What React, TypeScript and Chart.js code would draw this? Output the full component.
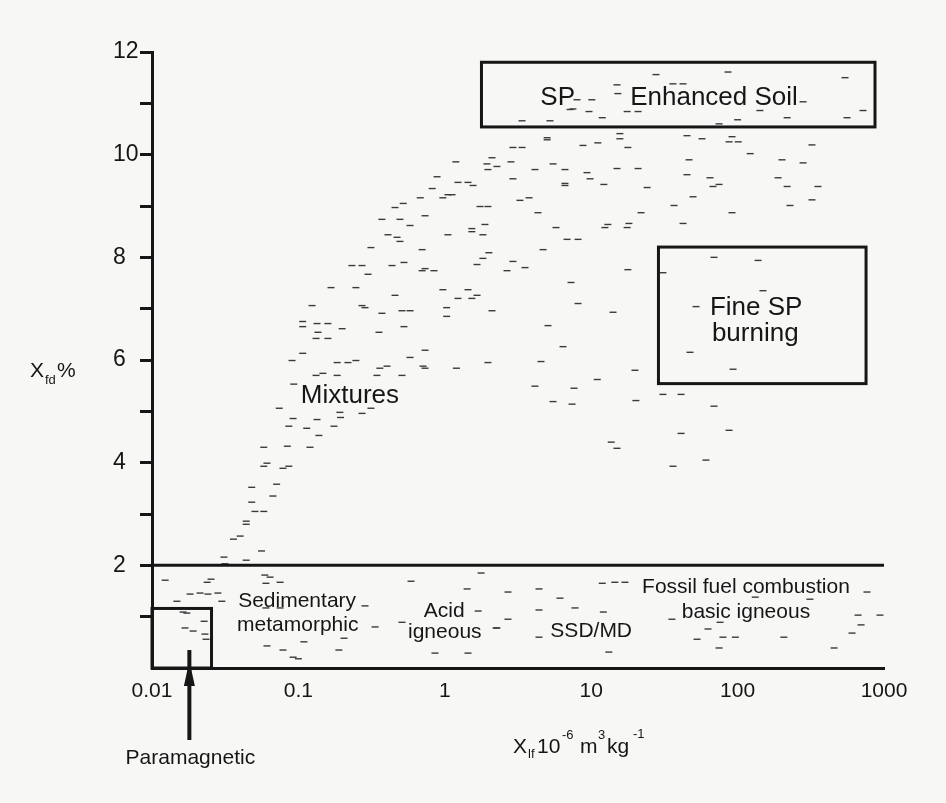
import React, { useEffect, useRef } from "react";
import { Chart, registerables } from "chart.js";

Chart.register(...registerables);

// ---- tick values / labels ----
const xTickValues = [0.01, 0.1, 1, 10, 100, 1000];
const xTickLabels = ["0.01", "0.1", "1", "10", "100", "1000"];
const yMajorTicks = [2, 4, 6, 8, 10, 12];

// ---- scatter samples: Xlf (10^-6 m3 kg-1) and Xfd% ----
// mixtures branch (rising from ~0.03 to ~2)
const mixturesXlf = [
  1.19, 1.94, 2.1, 1.97, 2.27, 0.885, 1.23, 1.44, 1.56, 0.82, 0.68, 0.97, 1.05, 1.12, 0.457, 0.52, 1.74, 1.97,
  0.372, 0.494, 0.579, 0.733, 1.53, 1.53, 1.88, 1.82, 0.409, 0.472, 0.494, 1.05, 0.313, 0.7, 2.0, 1.82, 1.66,
  0.232, 0.272, 0.299, 0.436, 0.526, 0.7, 0.733, 0.844, 0.167, 0.247, 0.97, 1.23, 1.44, 1.53, 1.66, 0.457,
  0.124, 0.272, 0.285, 0.372, 0.51, 0.579, 1.03, 1.03, 2.1, 0.107, 0.107, 0.134, 0.159, 0.199, 0.526, 0.136,
  0.132, 0.159, 0.355, 0.107, 0.0905, 0.184, 0.218, 0.247, 0.579, 0.733, 0.132, 0.147, 0.184, 0.344, 0.36,
  0.403, 0.51, 0.71, 0.733, 1.2, 1.97, 0.093, 0.074, 0.092, 0.086, 0.114, 0.134, 0.138, 0.192, 0.194, 0.175,
  0.272, 0.313, 0.058, 0.084, 0.12, 0.058, 0.061, 0.0785, 0.086, 0.071, 0.048, 0.067, 0.048, 0.0505, 0.058,
  0.044, 0.044, 0.04, 0.036, 0.056, 0.031, 0.044, 0.0315,
];
const mixturesXfd = [
  9.86, 9.82, 9.94, 9.71, 9.77, 9.57, 9.46, 9.46, 9.4, 9.34, 9.16, 9.16, 9.22, 9.22, 8.97, 9.05, 8.99, 8.99,
  8.74, 8.74, 8.62, 8.81, 8.56, 8.5, 8.64, 8.44, 8.44, 8.39, 8.31, 8.44, 8.19, 8.15, 8.09, 7.98, 7.86,
  7.84, 7.84, 7.67, 7.84, 7.9, 7.74, 7.78, 7.74, 7.41, 7.41, 7.37, 7.2, 7.37, 7.2, 7.26, 7.26,
  7.06, 7.06, 7.02, 6.91, 6.96, 6.96, 7.02, 6.85, 6.96, 6.75, 6.65, 6.71, 6.71, 6.61, 6.65, 6.54,
  6.42, 6.42, 6.54, 6.13, 5.99, 5.95, 5.95, 5.99, 6.05, 6.19, 5.7, 5.74, 5.7, 5.7, 5.84,
  5.88, 5.7, 5.88, 5.84, 5.84, 5.95, 5.53, 5.06, 4.86, 4.71, 4.67, 4.84, 4.53, 4.98, 4.88, 4.71,
  4.96, 5.06, 4.3, 4.32, 4.3, 3.93, 3.99, 3.89, 3.93, 3.58, 3.52, 3.35, 3.23, 3.05, 3.05,
  2.86, 2.8, 2.57, 2.51, 2.28, 2.16, 2.1, 2.03,
];

// SP / fine SP branch (upper right)
const superparaXlf = [
  27.7, 86, 542, 15.0, 15.2, 36.2, 42.4, 8.0, 10.1, 7.17, 7.5, 9.66, 17.6, 20.9, 142, 719, 3.37, 5.23, 11.9,
  74.7, 100, 218, 559, 280, 5.0, 5.0, 15.7, 15.7, 2.92, 3.37, 8.79, 11.1, 17.8, 45.1, 57.1, 91.6, 87.4, 101,
  322, 2.83, 122, 46.6, 201, 280, 4.13, 5.49, 6.62, 9.36, 9.82, 15.0, 20.9, 2.92, 6.62, 6.62, 12.2, 45.1,
  64.8, 67.9, 74.7, 189, 218, 354, 24.1, 3.26, 3.76, 49.6, 36.8, 228, 322, 4.33, 21.9, 91.6, 5.75, 12.4,
  13.0, 17.6, 18.1, 42.4, 6.84, 8.13, 4.69, 2.92, 3.53, 2.66, 17.8, 30.9, 69.0, 138, 7.28, 8.13, 14.1,
  52.0, 149, 5.07, 6.42, 4.54, 19.9, 11.0, 7.63, 4.13, 5.49, 7.4, 20.2, 30.9, 41.1, 69.0, 47.3, 93.1,
  41.1, 87.4, 13.7, 15.0, 36.2, 60.8,
];
const superparaXfd = [
  11.56, 11.61, 11.5, 11.36, 11.19, 11.38, 11.38, 11.07, 11.07, 10.88, 10.89, 10.84, 10.84, 10.84, 10.86, 10.86,
  10.66, 10.66, 10.72, 10.6, 10.68, 10.72, 10.72, 11.03, 10.33, 10.29, 10.41, 10.31, 10.14, 10.14, 10.18, 10.23,
  10.14, 10.37, 10.31, 10.35, 10.25, 10.25, 10.19, 9.86, 10.02, 9.9, 9.9, 9.84, 9.71, 9.82, 9.71, 9.65, 9.53,
  9.73, 9.73, 9.53, 9.44, 9.4, 9.42, 9.61, 9.55, 9.38, 9.42, 9.55, 9.38, 9.38, 9.36, 9.11, 9.16, 9.18, 9.01,
  9.01, 9.12, 8.87, 8.87, 8.87, 8.58, 8.58, 8.64, 8.58, 8.66, 8.66, 8.35, 8.35, 8.15, 7.92, 7.8, 7.74, 7.76,
  7.7, 8.0, 7.94, 7.51, 7.1, 6.93, 7.04, 7.35, 6.67, 6.26, 5.97, 5.8, 5.62, 5.45, 5.49, 5.19, 5.14, 5.21,
  5.33, 5.33, 5.1, 6.15, 5.82, 4.57, 4.63, 4.4, 4.28, 3.93, 4.05,
];

// low-Xfd band (below 2 %)
const lowBandXlf = [
  0.0123, 0.0238, 0.0253, 0.059, 0.064, 0.06, 0.075, 0.0182, 0.0213, 0.0241, 0.0282, 0.03, 0.0148, 0.588,
  1.42, 1.77, 0.0163, 0.0173, 0.0227, 0.0168, 0.0191, 0.023, 0.0234, 0.06, 0.075, 0.285, 0.334, 0.51, 1.69,
  2.27, 0.205, 0.109, 0.061, 0.0785, 0.092, 0.1, 0.189, 0.857, 1.44, 2.7, 4.4, 6.12, 11.9, 14.5, 17.0, 2.7,
  2.24, 4.4, 7.75, 12.1, 4.4, 13.2, 35.6, 62.8, 52.8, 79.4, 96.5, 74.7, 207, 456, 605, 697, 665, 939, 765,
  132, 312, 75.9,
];
const lowBandXfd = [
  1.71, 1.67, 1.73, 1.81, 1.77, 1.65, 1.67, 1.44, 1.46, 1.44, 1.46, 1.3, 1.3, 1.69,
  1.54, 1.85, 1.09, 1.07, 0.91, 0.78, 0.72, 0.66, 0.56, 1.17, 1.17, 1.21, 0.8, 0.89, 1.11,
  0.78, 0.58, 0.51, 0.43, 0.35, 0.21, 0.18, 0.35, 0.29, 0.29, 1.48, 1.54, 1.36, 1.65, 1.67, 1.67, 0.95,
  0.78, 1.13, 1.17, 1.09, 0.6, 0.31, 0.95, 0.76, 0.56, 0.6, 0.6, 0.39, 0.6, 0.39, 0.68, 0.84, 1.03, 1.03, 1.48,
  1.38, 1.34, 0.89,
];

// ---- region boxes (data units) ----
const boxNames = ["SP enhanced soil", "Fine SP burning", "Paramagnetic"];
const boxXMin = [1.78, 28.8, 0.01];
const boxXMax = [868, 754, 0.0255];
const boxYMin = [10.54, 5.54, 0];
const boxYMax = [11.8, 8.2, 1.16];
const dividerXfd = 2;

// ---- region labels (centre Xlf, baseline Xfd) ----
const labelTexts = [
  "SP", "Enhanced Soil", "Fine SP", "burning", "Mixtures",
  "Sedimentary", "metamorphic", "Acid", "igneous", "SSD/MD",
  "Fossil fuel combustion", "basic igneous",
];
const labelXlf = [5.9, 69, 134, 132, 0.225, 0.098, 0.099, 0.99, 1.0, 10.0, 114, 114];
const labelXfd = [10.97, 10.97, 6.88, 6.37, 5.16, 1.19, 0.72, 0.99, 0.58, 0.6, 1.46, 0.97];
const labelBig = [true, true, true, true, true, false, false, false, false, false, false, false];

const arrowXlf = 0.018;
const arrowTopXfd = 0.35;

const INK = "#161616";
const FONT = "'Liberation Sans', Arial, Helvetica, sans-serif";

const annotationPlugin = {
  id: "regionAnnotations",
  afterDatasetsDraw(chart: any) {
    const { ctx, chartArea, scales } = chart;
    const xs = scales.x;
    const ys = scales.y;
    ctx.save();
    ctx.strokeStyle = INK;
    ctx.fillStyle = INK;
    ctx.lineWidth = 3;

    // 2 % divider
    const yd = ys.getPixelForValue(dividerXfd);
    ctx.beginPath();
    ctx.moveTo(chartArea.left, yd);
    ctx.lineTo(chartArea.right, yd);
    ctx.stroke();

    // boxes
    for (let i = 0; i < boxNames.length; i++) {
      const x0 = xs.getPixelForValue(boxXMin[i]);
      const x1 = xs.getPixelForValue(boxXMax[i]);
      const y0 = ys.getPixelForValue(boxYMax[i]);
      const y1 = ys.getPixelForValue(boxYMin[i]);
      ctx.strokeRect(x0, y0, x1 - x0, y1 - y0);
    }

    // labels
    ctx.textAlign = "center";
    ctx.textBaseline = "alphabetic";
    for (let i = 0; i < labelTexts.length; i++) {
      ctx.font = `${labelBig[i] ? 26 : 21}px ${FONT}`;
      ctx.fillText(labelTexts[i], xs.getPixelForValue(labelXlf[i]), ys.getPixelForValue(labelXfd[i]));
    }

    // paramagnetic arrow
    const ax = xs.getPixelForValue(arrowXlf);
    const aTop = ys.getPixelForValue(arrowTopXfd);
    const aBottom = chartArea.bottom + 72;
    ctx.lineWidth = 4;
    ctx.beginPath();
    ctx.moveTo(ax, aTop);
    ctx.lineTo(ax, aBottom);
    ctx.stroke();
    ctx.beginPath();
    ctx.moveTo(ax, chartArea.bottom - 7);
    ctx.lineTo(ax - 5.5, chartArea.bottom + 18);
    ctx.lineTo(ax + 5.5, chartArea.bottom + 18);
    ctx.closePath();
    ctx.fill();

    ctx.font = `21px ${FONT}`;
    ctx.fillText("Paramagnetic", ax + 1, aBottom + 24);

    // axis titles
    ctx.textAlign = "left";
    const big = `21px ${FONT}`;
    const small = `13px ${FONT}`;
    // y title  Xfd%
    ctx.font = big;
    ctx.fillText("X", 30, 377);
    ctx.font = small;
    ctx.fillText("fd", 45, 384);
    ctx.font = big;
    ctx.fillText("%", 57, 377);
    // x title  Xlf 10^-6 m^3 kg^-1
    const tb = chartArea.bottom + 85;
    ctx.font = big;
    ctx.fillText("X", 513, tb);
    ctx.font = small;
    ctx.fillText("lf", 528, tb + 5);
    ctx.font = big;
    ctx.fillText("10", 537, tb);
    ctx.font = small;
    ctx.fillText("-6", 562, tb - 14);
    ctx.font = big;
    ctx.fillText("m", 580, tb);
    ctx.font = small;
    ctx.fillText("3", 598, tb - 14);
    ctx.font = big;
    ctx.fillText("kg", 607, tb);
    ctx.font = small;
    ctx.fillText("-1", 633, tb - 15);

    ctx.restore();
  },
};

function toPoints(xv: number[], yv: number[]) {
  return xv.map((v, i) => ({ x: v, y: yv[i] }));
}

export default function App() {
  const canvasRef = useRef<HTMLCanvasElement | null>(null);

  useEffect(() => {
    const canvas = canvasRef.current;
    if (!canvas) return;
    const dash = {
      pointStyle: "line" as const,
      pointRadius: 3.5,
      pointHoverRadius: 3.5,
      borderWidth: 1.4,
      borderColor: "#3a3a3a",
      backgroundColor: "#3a3a3a",
      showLine: false,
    };
    const chart = new Chart(canvas, {
      type: "scatter",
      data: {
        datasets: [
          { label: "Mixtures", data: toPoints(mixturesXlf, mixturesXfd), ...dash },
          { label: "SP", data: toPoints(superparaXlf, superparaXfd), ...dash },
          { label: "Low", data: toPoints(lowBandXlf, lowBandXfd), ...dash },
        ],
      },
      options: {
        responsive: false,
        animation: false,
        events: [],
        layout: { padding: { left: 113, top: 52, right: 62, bottom: 85 } },
        plugins: { legend: { display: false }, tooltip: { enabled: false }, title: { display: false } },
        scales: {
          x: {
            type: "logarithmic",
            min: 0.01,
            max: 1000,
            afterBuildTicks: (s: any) => {
              s.ticks = xTickValues.map((v) => ({ value: v }));
            },
            afterFit: (s: any) => {
              s.height = 50;
            },
            grid: { display: false },
            border: { display: true, color: INK, width: 3 },
            ticks: {
              autoSkip: false,
              maxRotation: 0,
              padding: 3,
              color: INK,
              font: { family: FONT, size: 21 },
              callback: (v: any) => {
                const i = xTickValues.indexOf(Number(v));
                return i >= 0 ? xTickLabels[i] : "";
              },
            },
          },
          y: {
            type: "linear",
            min: 0,
            max: 12,
            afterFit: (s: any) => {
              s.width = 39;
            },
            grid: {
              display: true,
              drawOnChartArea: false,
              drawTicks: true,
              tickLength: 12,
              lineWidth: 3,
              color: (c: any) => (c.tick && c.tick.value === 0 ? "rgba(0,0,0,0)" : INK),
            },
            border: { display: true, color: INK, width: 3 },
            ticks: {
              stepSize: 1,
              autoSkip: false,
              crossAlign: "far",
              padding: 0,
              color: INK,
              font: { family: FONT, size: 23 },
              callback: (v: any) => (yMajorTicks.includes(Number(v)) ? String(v) : ""),
            },
          },
        },
      },
      plugins: [annotationPlugin],
    });
    return () => chart.destroy();
  }, []);

  return (
    <div style={{ position: "absolute", left: 0, top: 0, width: 946, height: 803, background: "#f7f7f6" }}>
      <canvas ref={canvasRef} width={946} height={803} style={{ width: 946, height: 803, display: "block" }} />
    </div>
  );
}
